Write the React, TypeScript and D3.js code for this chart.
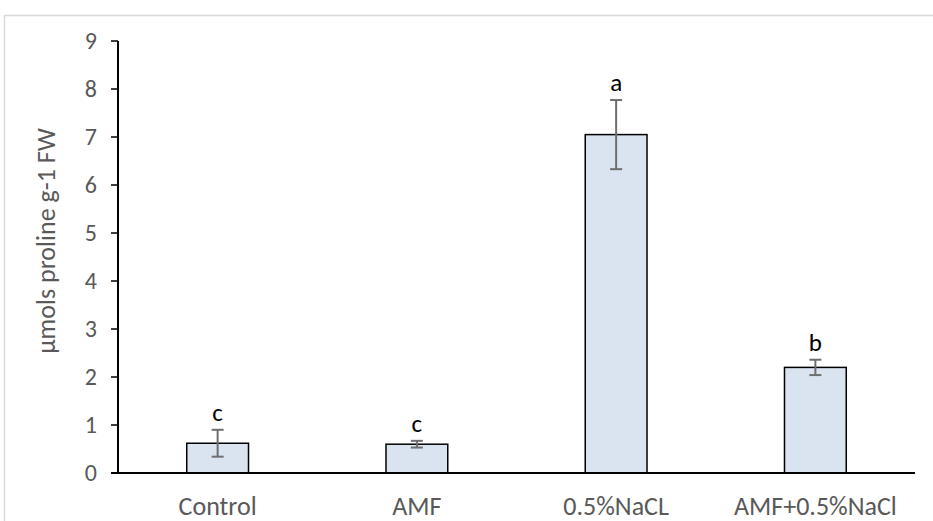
import React from "react";
import * as d3 from "d3";

const categories = ["Control", "AMF", "0.5%NaCL", "AMF+0.5%NaCl"];
const means = [0.62, 0.6, 7.05, 2.2];
const errors = [0.28, 0.07, 0.72, 0.16];
const letters = ["c", "c", "a", "b"];
const yTicks = [0, 1, 2, 3, 4, 5, 6, 7, 8, 9];
const yTitle = "µmols proline g-1 FW";

export default function App() {
  const W = 933, H = 521;
  const left = 118, right = 915, top = 41, bottom = 473;
  const x = d3.scaleBand().domain(categories).range([left, right]).paddingInner(0.69).paddingOuter(0.345);
  const y = d3.scaleLinear().domain([0, 9]).range([bottom, top]);
  const bw = x.bandwidth();
  const font = "Carlito, 'Liberation Sans', Arial, sans-serif";
  return (
    <svg width={W} height={H} style={{ position: "absolute", left: 0, top: 0 }} fontFamily={font}>
      <rect x={0} y={0} width={W} height={H} fill="#fff" />
      <rect x={4.5} y={15.5} width={W + 20} height={H + 20} fill="none" stroke="#d9d9d9" strokeWidth={1.5} />
      {yTicks.map((t) => (
        <g key={t}>
          <line x1={111} x2={left} y1={y(t)} y2={y(t)} stroke="#000" strokeWidth={1.5} />
          <text x={97} y={y(t)} dy="0.33em" textAnchor="end" fontSize={24} fill="#595959">{t}</text>
        </g>
      ))}
      {categories.map((c, i) => {
        const cx = (x(c) as number) + bw / 2;
        const hi = y(means[i] + errors[i]);
        const lo = y(means[i] - errors[i]);
        return (
          <g key={c}>
            <rect x={x(c)} y={y(means[i])} width={bw} height={bottom - y(means[i])} fill="#dae3f0" stroke="#000" strokeWidth={1.5} />
            <line x1={cx} x2={cx} y1={hi} y2={lo} stroke="#6e6e6e" strokeWidth={2} />
            <line x1={cx - 6} x2={cx + 6} y1={hi} y2={hi} stroke="#6e6e6e" strokeWidth={2} />
            <line x1={cx - 6} x2={cx + 6} y1={lo} y2={lo} stroke="#6e6e6e" strokeWidth={2} />
            <text x={cx} y={hi - 9} textAnchor="middle" fontSize={25} fill="#000">{letters[i]}</text>
            <text x={cx} y={515} textAnchor="middle" fontSize={26} fill="#595959">{c}</text>
          </g>
        );
      })}
      <line x1={left} x2={left} y1={top} y2={bottom} stroke="#000" strokeWidth={2} />
      <line x1={111} x2={right} y1={bottom} y2={bottom} stroke="#000" strokeWidth={2} />
      <text transform={`translate(46,${(125 + 357) / 2}) rotate(-90)`} textAnchor="middle" dy="0.33em" fontSize={26} fill="#595959">{yTitle}</text>
    </svg>
  );
}
